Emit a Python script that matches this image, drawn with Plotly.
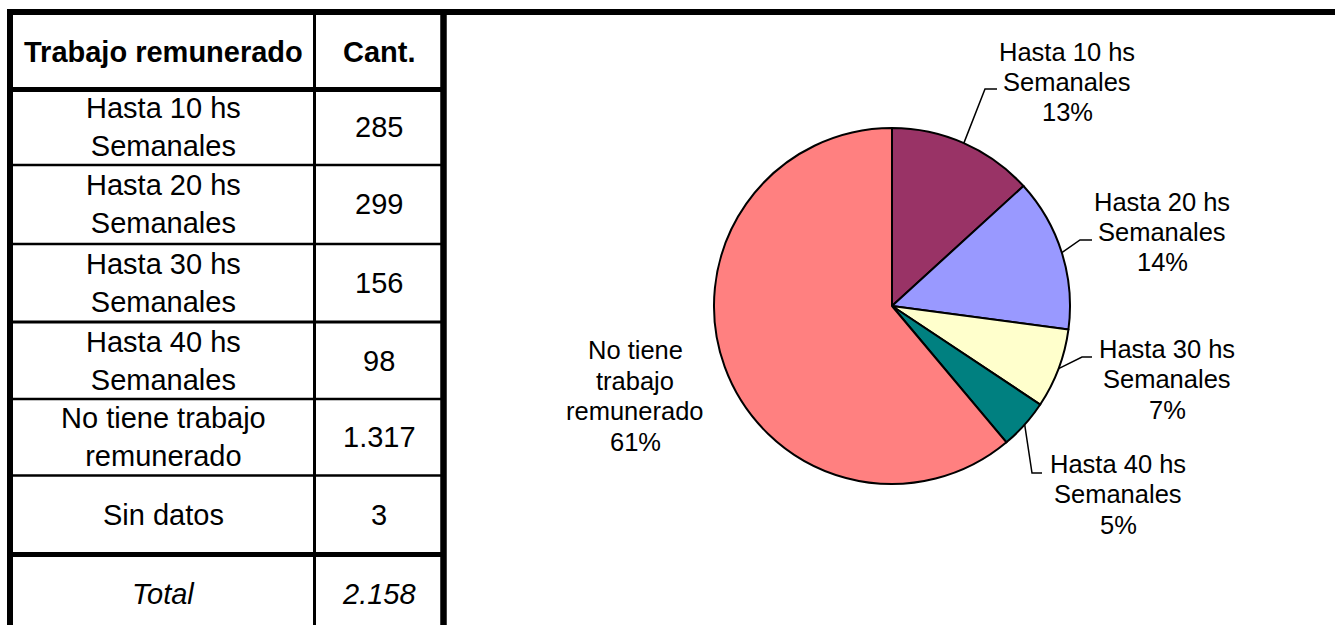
import math
import plotly.graph_objects as go

# data
categorias = ["Hasta 10 hs<br>Semanales", "Hasta 20 hs<br>Semanales", "Hasta 30 hs<br>Semanales",
              "Hasta 40 hs<br>Semanales", "No tiene trabajo<br>remunerado", "Sin datos"]
cantidades = [285, 299, 156, 98, 1317, 3]
total = 2158

pie_labels = ["Hasta 10 hs<br>Semanales", "Hasta 20 hs<br>Semanales", "Hasta 30 hs<br>Semanales",
              "Hasta 40 hs<br>Semanales", "No tiene<br>trabajo<br>remunerado"]
pie_values = cantidades[:5]
colores = ["#993366", "#9999FF", "#FFFFCC", "#008080", "#FF8080"]

W, H = 1335, 625
FONT = "Liberation Sans, Arial, sans-serif"


def px(x):
    return x / W


def py(y):
    return 1 - y / H


def fmt(n):
    return f"{n:,}".replace(",", ".")


fig = go.Figure()

# pie
cx, cy, r = 892, 306, 178
fig.add_trace(go.Pie(
    labels=pie_labels,
    values=pie_values,
    sort=False,
    direction="clockwise",
    rotation=0,
    marker=dict(colors=colores, line=dict(color="black", width=2)),
    textinfo="none",
    hoverinfo="skip",
    showlegend=False,
    domain=dict(x=[px(cx - r), px(cx + r)], y=[py(cy + r), py(cy - r)]),
))

shapes = []
annots = []

# frame + table lines
def hline(x0, x1, y, w):
    shapes.append(dict(type="line", xref="paper", yref="paper", x0=px(x0), x1=px(x1),
                       y0=py(y), y1=py(y), line=dict(color="black", width=w)))


def vline(x, y0, y1, w):
    shapes.append(dict(type="line", xref="paper", yref="paper", x0=px(x), x1=px(x),
                       y0=py(y0), y1=py(y1), line=dict(color="black", width=w)))


hline(7, W, 12, 6)
vline(10, 9, H, 6)
vline(443.5, 9, H, 6.5)
vline(314.5, 12, H, 3)
row_lines = [(89.5, 5), (165, 2.5), (244, 2.5), (322, 3), (399, 2.5), (475.5, 2.5), (554.5, 5)]
for y, w in row_lines:
    hline(10, 443.5, y, w)

# table text
def cell(x, y, text, size=29):
    annots.append(dict(x=px(x), y=py(y), xref="paper", yref="paper", text=text, showarrow=False,
                       xanchor="center", yanchor="middle", font=dict(family=FONT, size=size, color="black")))


cell(163, 52, "<b>Trabajo remunerado</b>")
cell(379, 52, "<b>Cant.</b>")
row_centers = [127.5, 204.5, 283, 360.5, 437, 515]
for cat, val, yc in zip(categorias, cantidades, row_centers):
    cell(163, yc, cat)
    cell(379, yc, fmt(val))
cell(163, 594, "<i>Total</i>")
cell(379, 594, "<i>" + fmt(total) + "</i>")

# pie labels with leader lines
label_pos = [(1067, 82), (1162, 232), (1167, 379), (1118, 494), (635, 396)]
elbows = [((985, 89), (997, 89)), ((1080, 240), (1092, 240)), ((1082, 357), (1092, 357)),
          ((1032, 473), (1042, 473)), None]
line_gap = 30.5
tot_pie = sum(pie_values)
acum = 0
for lab, val, (lx, ly), elb in zip(pie_labels, pie_values, label_pos, elbows):
    frac = val / tot_pie
    mid = (acum + frac / 2) * 2 * math.pi
    acum += frac
    pct = round(frac * 100)
    lines = lab.split("<br>") + [f"{pct}%"]
    n = len(lines)
    for i, t in enumerate(lines):
        yy = ly + (i - (n - 1) / 2) * line_gap
        annots.append(dict(x=px(lx), y=py(yy), xref="paper", yref="paper", text=t,
                           showarrow=False, xanchor="center", yanchor="middle",
                           font=dict(family=FONT, size=25.5, color="black")))
    if elb:
        ex, ey = cx + r * math.sin(mid), cy - r * math.cos(mid)
        (bx, by), (tx, ty) = elb
        path = f"M {px(ex)} {py(ey)} L {px(bx)} {py(by)} L {px(tx)} {py(ty)}"
        shapes.append(dict(type="path", xref="paper", yref="paper", path=path,
                           line=dict(color="black", width=1.5)))

fig.update_layout(
    width=W, height=H,
    margin=dict(l=0, r=0, t=0, b=0),
    paper_bgcolor="white",
    plot_bgcolor="white",
    shapes=shapes,
    annotations=annots,
)

fig.write_html("out.html", config={"displayModeBar": False},
               post_script="document.body.style.margin='0px';document.body.style.overflow='hidden';")
